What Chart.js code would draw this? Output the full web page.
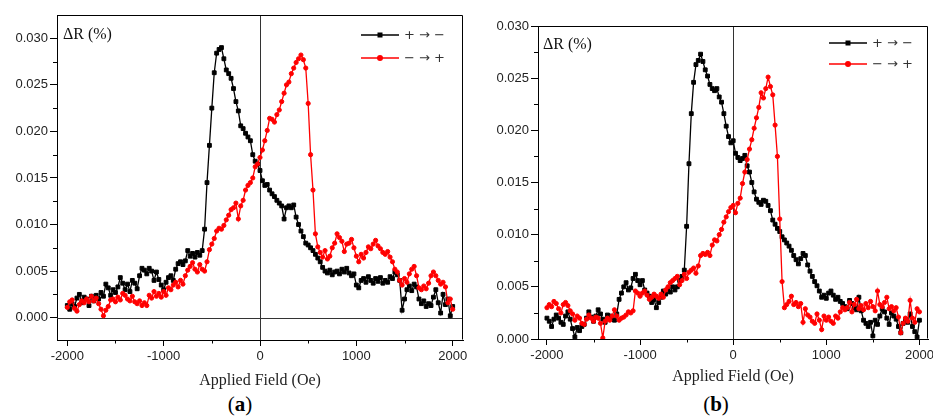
<!DOCTYPE html>
<html><head><meta charset="utf-8">
<script src="https://cdn.jsdelivr.net/npm/chart.js@4.4.1/dist/chart.umd.min.js"></script>
<style>
html,body{margin:0;padding:0;background:#fff;width:933px;height:419px;overflow:hidden;position:relative}
#ca{position:absolute;left:0;top:0}
#cb{position:absolute;left:470px;top:0}
.lab{position:absolute;font-family:"Liberation Serif","Times New Roman",serif;font-size:21px;line-height:21px;color:#000;transform:translateX(-50%);white-space:nowrap}
</style></head><body>
<canvas id="ca" width="470" height="390"></canvas>
<canvas id="cb" width="463" height="386"></canvas>
<div class="lab" style="left:240px;top:394px">(<b>a</b>)</div>
<div class="lab" style="left:716px;top:394px">(<b>b</b>)</div>
<script>
// ---- data ----
const FIELD = [
-2000,-1975,-1950,-1925,-1900,-1875,-1850,-1825,
-1800,-1775,-1750,-1725,-1700,-1675,-1650,-1625,
-1600,-1575,-1550,-1525,-1500,-1475,-1450,-1425,
-1400,-1375,-1350,-1325,-1300,-1275,-1250,-1225,
-1200,-1175,-1150,-1125,-1100,-1075,-1050,-1025,
-1000,-975,-950,-925,-900,-875,-850,-825,
-800,-775,-750,-725,-700,-675,-650,-625,
-600,-575,-550,-525,-500,-475,-450,-425,
-400,-375,-350,-325,-300,-275,-250,-225,
-200,-175,-150,-125,-100,-75,-50,-25,
0,25,50,75,100,125,150,175,
200,225,250,275,300,325,350,375,
400,425,450,475,500,525,550,575,
600,625,650,675,700,725,750,775,
800,825,850,875,900,925,950,975,
1000,1025,1050,1075,1100,1125,1150,1175,
1200,1225,1250,1275,1300,1325,1350,1375,
1400,1425,1450,1475,1500,1525,1550,1575,
1600,1625,1650,1675,1700,1725,1750,1775,
1800,1825,1850,1875,1900,1925,1950,1975,
2000];

// panel (a), sweep + -> -
const A_PLUS_TO_MINUS = [
.0013,.0009,.0015,.0012,.0021,.0025,.0016,.0022,
.0020,.0013,.0023,.0018,.0024,.0020,.0027,.0023,
.0036,.0032,.0024,.0030,.0027,.0033,.0043,.0037,
.0030,.0036,.0028,.0040,.0037,.0031,.0045,.0053,
.0051,.0047,.0053,.0050,.0040,.0049,.0041,.0035,
.0030,.0038,.0043,.0045,.0040,.0052,.0058,.0060,
.0057,.0061,.0072,.0066,.0069,.0065,.0070,.0067,
.0072,.0095,.0145,.0185,.0225,.0263,.0284,.0288,
.0290,.0278,.0266,.0262,.0257,.0246,.0232,.0222,
.0206,.0203,.0198,.0194,.0190,.0175,.0168,.0165,
.0158,.0147,.0142,.0143,.0137,.0133,.0130,.0126,
.0123,.0120,.0106,.0118,.0120,.0118,.0121,.0108,
.0100,.0093,.0087,.0080,.0078,.0075,.0072,.0068,
.0064,.0060,.0054,.0050,.0048,.0051,.0046,.0049,
.0050,.0047,.0052,.0049,.0053,.0048,.0045,.0047,
.0035,.0032,.0040,.0042,.0038,.0044,.0040,.0037,
.0042,.0039,.0043,.0037,.0040,.0038,.0044,.0042,
.0049,.0046,.0040,.0008,.0020,.0030,.0034,.0029,
.0036,.0033,.0020,.0015,.0018,.0012,.0015,.0013,
.0022,.0030,.0016,.0005,.0025,.0014,.0020,.0002,
.0012];

// panel (a), sweep - -> +
const A_MINUS_TO_PLUS = [
.0011,.0017,.0019,.0010,.0007,.0014,.0018,.0016,
.0020,.0017,.0023,.0018,.0021,.0015,.0009,.0002,
.0008,.0012,.0019,.0020,.0017,.0022,.0019,.0026,
.0024,.0020,.0018,.0023,.0017,.0015,.0018,.0013,
.0016,.0013,.0024,.0021,.0028,.0023,.0026,.0022,
.0028,.0024,.0032,.0030,.0035,.0038,.0033,.0040,
.0036,.0045,.0051,.0055,.0059,.0052,.0049,.0057,
.0052,.0050,.0060,.0073,.0079,.0085,.0093,.0096,
.0095,.0099,.0105,.0110,.0116,.0118,.0123,.0106,
.0120,.0126,.0137,.0142,.0145,.0150,.0162,.0165,
.0172,.0180,.0190,.0201,.0214,.0213,.0210,.0218,
.0223,.0232,.0241,.0250,.0253,.0262,.0268,.0274,
.0278,.0282,.0277,.0268,.0230,.0175,.0137,.0090,
.0076,.0070,.0065,.0072,.0063,.0066,.0075,.0080,
.0090,.0086,.0082,.0071,.0079,.0080,.0084,.0075,
.0066,.0060,.0068,.0064,.0070,.0076,.0074,.0079,
.0083,.0077,.0074,.0070,.0068,.0071,.0065,.0060,
.0052,.0049,.0040,.0035,.0042,.0038,.0047,.0052,
.0055,.0045,.0032,.0030,.0034,.0031,.0037,.0045,
.0049,.0045,.0040,.0036,.0038,.0033,.0016,.0020,
.0009];

// panel (b), sweep + -> -
const B_PLUS_TO_MINUS = [
.0020,.0017,.0012,.0019,.0023,.0020,.0016,.0014,
.0022,.0026,.0019,.0010,.0002,.0011,.0008,.0012,
.0014,.0020,.0026,.0021,.0017,.0022,.0028,.0024,
.0019,.0016,.0023,.0022,.0020,.0018,.0024,.0038,
.0044,.0050,.0054,.0047,.0049,.0058,.0062,.0056,
.0052,.0056,.0047,.0044,.0041,.0035,.0038,.0030,
.0035,.0040,.0046,.0043,.0048,.0045,.0050,.0047,
.0050,.0056,.0060,.0066,.0108,.0168,.0216,.0246,
.0263,.0267,.0273,.0266,.0258,.0252,.0244,.0240,
.0238,.0240,.0232,.0227,.0216,.0204,.0194,.0188,
.0190,.0178,.0174,.0171,.0173,.0176,.0166,.0160,
.0150,.0141,.0134,.0131,.0129,.0133,.0132,.0128,
.0123,.0114,.0110,.0106,.0103,.0098,.0095,.0092,
.0089,.0085,.0080,.0076,.0072,.0077,.0082,.0080,
.0071,.0065,.0060,.0055,.0051,.0046,.0040,.0042,
.0039,.0044,.0046,.0042,.0038,.0040,.0036,.0034,
.0031,.0029,.0037,.0034,.0030,.0028,.0040,.0027,
.0018,.0015,.0012,.0016,.0003,.0018,.0014,.0022,
.0029,.0026,.0020,.0014,.0025,.0022,.0019,.0012,
.0006,.0015,.0019,.0016,.0024,.0012,.0007,.0002,
.0018];

// panel (b), sweep - -> +
const B_MINUS_TO_PLUS = [
.0030,.0033,.0031,.0036,.0034,.0029,.0025,.0033,
.0035,.0032,.0027,.0024,.0018,.0022,.0020,.0015,
.0014,.0019,.0023,.0020,.0017,.0021,.0020,.0015,
.0001,.0017,.0020,.0018,.0022,.0028,.0022,.0018,
.0020,.0021,.0023,.0026,.0025,.0027,.0046,.0044,
.0041,.0044,.0046,.0042,.0038,.0040,.0043,.0041,
.0039,.0043,.0040,.0047,.0050,.0054,.0056,.0058,
.0060,.0052,.0056,.0062,.0058,.0064,.0066,.0068,
.0063,.0070,.0080,.0082,.0081,.0083,.0080,.0090,
.0095,.0094,.0100,.0105,.0112,.0117,.0122,.0126,
.0128,.0121,.0130,.0135,.0149,.0160,.0172,.0182,
.0191,.0202,.0212,.0222,.0236,.0231,.0240,.0251,
.0242,.0234,.0205,.0175,.0115,.0055,.0030,.0033,
.0036,.0041,.0033,.0035,.0031,.0034,.0016,.0029,
.0023,.0021,.0017,.0015,.0024,.0018,.0009,.0022,
.0018,.0021,.0017,.0015,.0022,.0020,.0026,.0030,
.0028,.0030,.0035,.0026,.0033,.0038,.0029,.0032,
.0028,.0034,.0030,.0036,.0031,.0027,.0046,.0033,
.0031,.0035,.0040,.0029,.0031,.0027,.0030,.0021,
.0006,.0015,.0020,.0017,.0037,.0020,.0016,.0029,
.0026];

const LEGEND_LABELS = ['+ \u2192 \u2212', '\u2212 \u2192 +'];
const X_TITLE = 'Applied Field (Oe)';
const Y_LABEL = '\u0394R (%)';
const X_TICKS = [-2000, -1000, 0, 1000, 2000];
const Y_TICKS = [0, 0.005, 0.010, 0.015, 0.020, 0.025, 0.030];
const X_MINOR = [-1500, -500, 500, 1500];
const Y_MINOR = [0.0025, 0.0075, 0.0125, 0.0175, 0.0225, 0.0275];

// ---- drawing ----
const SANS = '"Liberation Sans", Arial, Helvetica, sans-serif';
const SERIF = '"Liberation Serif", "Times New Roman", serif';

function pts(vals){ return FIELD.map((h, i) => ({x: h, y: vals[i]})); }

function deco(o){
  return {
    id: 'deco',
    beforeDatasetsDraw(chart){
      const {ctx, chartArea: a, scales: {x, y}} = chart;
      ctx.save();
      ctx.strokeStyle = '#333'; ctx.lineWidth = 1;
      const x0 = Math.round(x.getPixelForValue(0)) + 0.5;
      ctx.beginPath(); ctx.moveTo(x0, a.top); ctx.lineTo(x0, a.bottom); ctx.stroke();
      if (y.min < 0) {
        const y0 = Math.round(y.getPixelForValue(0)) + 0.5;
        ctx.beginPath(); ctx.moveTo(a.left, y0); ctx.lineTo(a.right, y0); ctx.stroke();
      }
      ctx.restore();
    },
    afterDraw(chart){
      const {ctx, chartArea: a, scales: {x, y}} = chart;
      ctx.save();
      ctx.strokeStyle = '#000'; ctx.lineWidth = 1;
      const L = Math.round(a.left) + 0.5, T = Math.round(a.top) + 0.5;
      const R = Math.round(a.right) - 0.5, B = Math.round(a.bottom) - 0.5;
      ctx.beginPath();
      ctx.moveTo(L, T); ctx.lineTo(R, T); ctx.lineTo(R, B);
      for (const v of X_MINOR) {
        if (v <= x.min || v >= x.max) continue;
        const px = Math.round(x.getPixelForValue(v)) + 0.5;
        ctx.moveTo(px, a.bottom); ctx.lineTo(px, a.bottom + 3.5);
      }
      for (const v of Y_MINOR) {
        if (v <= y.min || v >= y.max) continue;
        const py = Math.round(y.getPixelForValue(v)) + 0.5;
        ctx.moveTo(a.left, py); ctx.lineTo(a.left - 4, py);
      }
      ctx.stroke();
      ctx.fillStyle = '#111'; ctx.font = '16px ' + SERIF;
      ctx.textBaseline = 'middle'; ctx.textAlign = 'left';
      ctx.fillText(Y_LABEL, a.left + o.labDx, a.top + o.labDy);
      const rows = [{c: '#000', s: 'rect'}, {c: '#ff0000', s: 'circle'}];
      rows.forEach((r, i) => {
        const yy = a.top + o.legY[i];
        const x1 = a.right - o.legX1, x2 = a.right - o.legX2;
        ctx.strokeStyle = r.c; ctx.lineWidth = 1.4;
        ctx.beginPath(); ctx.moveTo(x1, yy); ctx.lineTo(x2, yy); ctx.stroke();
        ctx.fillStyle = r.c;
        const mx = (x1 + x2) / 2;
        if (r.s === 'rect') ctx.fillRect(mx - 2.5, yy - 2.5, 5, 5);
        else { ctx.beginPath(); ctx.arc(mx, yy, 3, 0, Math.PI * 2); ctx.fill(); }
        ctx.fillStyle = '#333'; ctx.font = '13px "DejaVu Sans", sans-serif';
        ctx.textBaseline = 'middle';
        ctx.fillText(LEGEND_LABELS[i], x2 + 5, yy + 1);
      });
      ctx.restore();
    }
  };
}

function makeChart(id, up, down, o){
  return new Chart(document.getElementById(id), {
    type: 'line',
    data: {
      datasets: [
        {label: LEGEND_LABELS[1], data: pts(down), borderColor: '#ff0000', backgroundColor: '#ff0000',
         borderWidth: 1.3, pointStyle: 'circle', pointRadius: 2.1, pointBorderWidth: 1, tension: 0},
        {label: LEGEND_LABELS[0], data: pts(up), borderColor: '#000', backgroundColor: '#000',
         borderWidth: 1.3, pointStyle: 'rect', pointRadius: 2.7, pointBorderWidth: 1, tension: 0}
      ]
    },
    options: {
      responsive: false, animation: false, events: [],
      layout: {padding: {left: 0, top: o.top, right: o.right, bottom: 0}},
      plugins: {legend: {display: false}, tooltip: {enabled: false}},
      scales: {
        x: {
          type: 'linear', min: o.xmin, max: o.xmax,
          afterBuildTicks(s){ s.ticks = X_TICKS.map(v => ({value: v})); },
          ticks: {color: '#222', font: {family: SANS, size: 13}, padding: 3, maxRotation: 0, autoSkip: false,
                  callback: v => String(v)},
          grid: {drawOnChartArea: false, drawTicks: true, tickLength: 6, tickColor: '#000', color: '#000'},
          border: {display: true, color: '#000', width: 1},
          title: {display: true, text: X_TITLE, color: '#222', font: {family: SERIF, size: 16}, padding: {top: 0, bottom: 0}},
          afterFit(s){ s.height = o.xh; s.paddingLeft = 0; s.paddingRight = 0; }
        },
        y: {
          type: 'linear', min: o.ymin, max: o.ymax,
          afterBuildTicks(s){ s.ticks = Y_TICKS.map(v => ({value: v})); },
          ticks: {color: '#222', font: {family: SANS, size: 13}, padding: 2, autoSkip: false,
                  callback: v => Number(v).toFixed(3)},
          grid: {drawOnChartArea: false, drawTicks: true, tickLength: 7, tickColor: '#000', color: '#000'},
          border: {display: true, color: '#000', width: 1},
          afterFit(s){ s.width = o.yw; s.paddingTop = 0; s.paddingBottom = 0; }
        }
      }
    },
    plugins: [deco(o)]
  });
}

makeChart('ca', A_PLUS_TO_MINUS, A_MINUS_TO_PLUS, {
  top: 15, right: 7, yw: 57, xh: 50,
  xmin: -2107, xmax: 2107, ymin: -0.0024, ymax: 0.0325,
  labDx: 6, labDy: 20, legY: [20, 43], legX1: 102, legX2: 64
});
makeChart('cb', B_PLUS_TO_MINUS, B_MINUS_TO_PLUS, {
  top: 26, right: 4, yw: 68, xh: 47,
  xmin: -2096, xmax: 2092, ymin: 0, ymax: 0.030,
  labDx: 5, labDy: 19, legY: [17, 38], legX1: 99, legX2: 61
});
</script>
</body></html>
